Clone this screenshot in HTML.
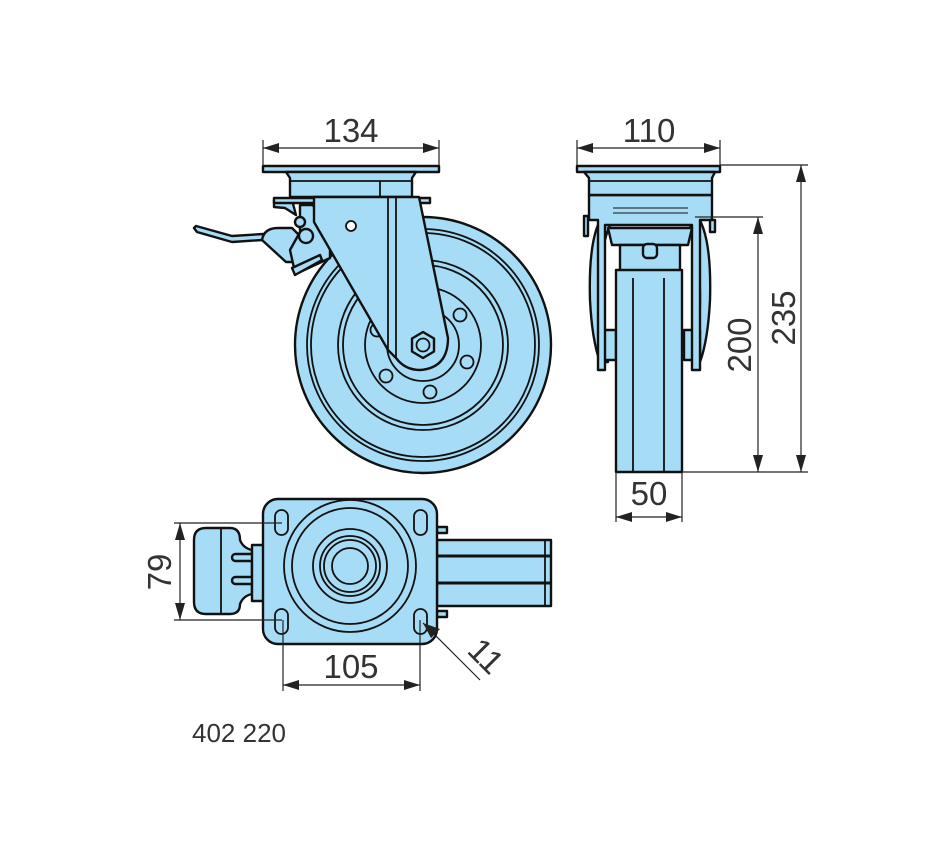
<!DOCTYPE html>
<html><head><meta charset="utf-8"><style>
html,body{margin:0;padding:0;background:#fff;}
svg{display:block;}
.b{fill:#a6dcf6;stroke:#111;stroke-width:2.4;stroke-linejoin:round;}
.n{fill:none;stroke:#111;stroke-width:1.8;}
.t{fill:none;stroke:#111;stroke-width:1;}
.d{stroke:#222;stroke-width:1.2;fill:none;}
.a{fill:#222;}
.lbl{font-family:"Liberation Sans",sans-serif;font-size:33px;fill:#333;font-weight:300;}
</style></head><body>
<svg width="950" height="860" viewBox="0 0 950 860" xmlns="http://www.w3.org/2000/svg">
<!-- ===== SIDE VIEW ===== -->
<circle class="b" cx="423" cy="345" r="128"/>
<circle class="n" cx="423" cy="345" r="116"/>
<circle class="n" cx="423" cy="345" r="112"/>
<circle class="n" cx="423" cy="345" r="85"/>
<circle class="n" cx="423" cy="345" r="80"/>
<circle class="n" cx="423" cy="345" r="58"/>
<circle class="n" cx="423" cy="345" r="36"/>
<g class="b" style="stroke-width:1.8">
<circle cx="460" cy="315" r="6.5"/><circle cx="467" cy="362" r="6.5"/><circle cx="430" cy="392" r="6.5"/><circle cx="386" cy="376" r="6.5"/><circle cx="377" cy="330" r="6.5"/>
</g>
<!-- brake -->
<path class="b" d="M194 228 L197 232 L232 242 L262 240 L288 248 L289 242 L263 234 L232 236 L196 226 Z"/>
<path class="b" d="M262 240 Q264 228 278 228 L292 228 L300 236 L292 262 L286 262 Z"/>
<path class="b" d="M290 250 L300 232 L300 205 L313 205 L330 240 L330 258 L300 272 L294 268 Z"/>
<path class="b" d="M292 268 L320 255 L322 260 L295 275 Z"/>
<path class="b" d="M274 200 L292 200 L296 215 L285 208 L274 207 Z"/>
<circle class="b" cx="300" cy="222" r="5"/>
<circle class="b" cx="306" cy="236" r="7"/>
<rect class="b" x="263" y="166" width="176" height="6"/>
<path class="b" d="M286 172 L416 172 L412 178 L412 197 L290 197 L290 178 Z"/>
<line class="n" x1="290" y1="181" x2="412" y2="181"/>
<line class="n" x1="380" y1="181" x2="380" y2="197"/>
<rect class="b" x="274" y="198" width="156" height="5"/>
<path class="b" d="M314 197 L419 197 L448 338 Q448 368 420 370 Q405 370 396 358 L388 350 L314 222 Z"/>
<line class="n" x1="388" y1="197" x2="388" y2="350"/>
<line class="n" x1="396" y1="197" x2="396" y2="358"/>
<circle class="n" cx="351" cy="226" r="5" style="fill:#fff"/>
<polygon class="b" points="423,332 434,338.5 434,351.5 423,358 412,351.5 412,338.5"/>
<circle class="n" cx="423" cy="345" r="6.5"/>
<line class="d" x1="263" y1="140" x2="263" y2="166"/><line class="d" x1="439" y1="140" x2="439" y2="166"/>
<line class="d" x1="263" y1="148" x2="439" y2="148"/>
<polygon class="a" points="263,148 279,143 279,153"/><polygon class="a" points="439,148 423,143 423,153"/>
<text class="lbl" x="351" y="142" text-anchor="middle">134</text>

<!-- ===== FRONT VIEW ===== -->
<path class="b" d="M606 212 Q588 230 590 300 Q592 340 600 362 L608 362 Q600 330 600 300 Q600 240 612 222 Z"/>
<path class="b" d="M694 212 Q712 230 710 300 Q708 340 700 362 L692 362 Q700 330 700 300 Q700 240 688 222 Z"/>
<rect class="b" x="600" y="330" width="16" height="30"/><rect class="b" x="684" y="330" width="16" height="30"/>
<path class="b" d="M589 195 L712 195 L712 220 L700 220 L700 370 L692 370 L692 225 L605 225 L605 370 L598 370 L598 220 L589 220 Z"/>
<path class="b" d="M608 228 L692 228 L688 245 L612 245 Z"/>
<path class="b" d="M620 245 L680 245 L680 275 L620 275 Z"/>
<rect class="b" x="643" y="244" width="14" height="14" rx="4"/>
<rect class="b" x="616" y="270" width="66" height="202"/>
<line class="n" x1="633" y1="278" x2="633" y2="472"/><line class="n" x1="664" y1="278" x2="664" y2="472"/>
<rect class="b" x="584" y="216" width="4" height="20"/><rect class="b" x="710" y="220" width="5" height="12"/>
<rect class="b" x="577" y="166" width="143" height="6"/>
<path class="b" d="M584 172 L715 172 L712 178 L712 195 L589 195 L589 178 Z"/>
<line class="n" x1="589" y1="181" x2="712" y2="181"/>
<line class="t" x1="613" y1="208" x2="688" y2="208"/><line class="t" x1="613" y1="213" x2="688" y2="213"/>
<line class="d" x1="577" y1="140" x2="577" y2="166"/><line class="d" x1="720" y1="140" x2="720" y2="166"/>
<line class="d" x1="577" y1="148" x2="720" y2="148"/>
<polygon class="a" points="577,148 593,143 593,153"/><polygon class="a" points="720,148 704,143 704,153"/>
<text class="lbl" x="649" y="142" text-anchor="middle">110</text>
<line class="d" x1="720" y1="165" x2="808" y2="165"/><line class="d" x1="682" y1="472" x2="808" y2="472"/>
<line class="d" x1="801" y1="165" x2="801" y2="472"/>
<polygon class="a" points="801,165 796,182 806,182"/><polygon class="a" points="801,472 796,455 806,455"/>
<text class="lbl" transform="translate(795,318) rotate(-90)" text-anchor="middle">235</text>
<line class="d" x1="695" y1="217" x2="763" y2="217"/>
<line class="d" x1="758" y1="217" x2="758" y2="472"/>
<polygon class="a" points="758,217 753,234 763,234"/><polygon class="a" points="758,472 753,455 763,455"/>
<text class="lbl" transform="translate(751,345) rotate(-90)" text-anchor="middle">200</text>
<line class="d" x1="616" y1="472" x2="616" y2="522"/><line class="d" x1="682" y1="472" x2="682" y2="522"/>
<line class="d" x1="616" y1="517" x2="682" y2="517"/>
<polygon class="a" points="616,517 632,512 632,522"/><polygon class="a" points="682,517 666,512 666,522"/>
<text class="lbl" x="649" y="505" text-anchor="middle">50</text>

<!-- ===== BOTTOM VIEW ===== -->
<rect class="b" x="437" y="540" width="114" height="66"/>
<line class="n" x1="437" y1="556" x2="551" y2="556" style="stroke-width:3"/>
<line class="n" x1="437" y1="583" x2="551" y2="583" style="stroke-width:3"/>
<line class="n" x1="545" y1="540" x2="545" y2="606"/>
<rect class="b" x="437" y="527" width="10" height="6"/><rect class="b" x="437" y="611" width="10" height="6"/>
<path class="b" d="M206 528 L230 528 Q240 528 240 540 Q243 548 252 550 L252 594 Q243 596 240 604 Q240 614 230 614 L206 614 Q194 614 194 602 L194 540 Q194 528 206 528 Z"/>
<line class="n" x1="221" y1="529" x2="221" y2="613"/>
<rect class="b" x="232" y="554" width="30" height="7" rx="3.5"/><rect class="b" x="232" y="577" width="30" height="7" rx="3.5"/>
<rect class="b" x="252" y="545" width="12" height="56"/>
<rect class="b" x="263" y="499" width="174" height="145" rx="15"/>
<circle class="n" cx="350" cy="566" r="66"/>
<circle class="n" cx="350" cy="566" r="58"/>
<circle class="n" cx="350" cy="566" r="37"/>
<circle class="n" cx="350" cy="566" r="30"/>
<circle class="n" cx="350" cy="566" r="26"/>
<circle class="n" cx="350" cy="566" r="18"/>
<g class="n" style="fill:#a6dcf6">
<rect x="275" y="510" width="13" height="25" rx="6.5"/><rect x="414" y="510" width="13" height="25" rx="6.5"/>
<rect x="275" y="609" width="13" height="25" rx="6.5"/><rect x="414" y="609" width="13" height="25" rx="6.5"/>
</g>
<line class="d" x1="174" y1="523" x2="282" y2="523"/><line class="d" x1="174" y1="620" x2="282" y2="620"/>
<line class="d" x1="180" y1="523" x2="180" y2="620"/>
<polygon class="a" points="180,523 175,540 185,540"/><polygon class="a" points="180,620 175,603 185,603"/>
<text class="lbl" transform="translate(171,572) rotate(-90)" text-anchor="middle">79</text>
<line class="d" x1="283" y1="620" x2="283" y2="691"/><line class="d" x1="420" y1="620" x2="420" y2="691"/>
<line class="d" x1="283" y1="685" x2="420" y2="685"/>
<polygon class="a" points="283,685 299,680 299,690"/><polygon class="a" points="420,685 404,680 404,690"/>
<text class="lbl" x="351" y="678" text-anchor="middle">105</text>
<line class="d" x1="423" y1="623" x2="480" y2="680"/>
<polygon class="a" points="423,623 440,629 431,638"/>
<text class="lbl" transform="translate(478,664) rotate(45)" text-anchor="middle">11</text>

<text x="192" y="742" font-family="Liberation Sans,sans-serif" font-size="26" fill="#333">402 220</text>
</svg>
</body></html>
